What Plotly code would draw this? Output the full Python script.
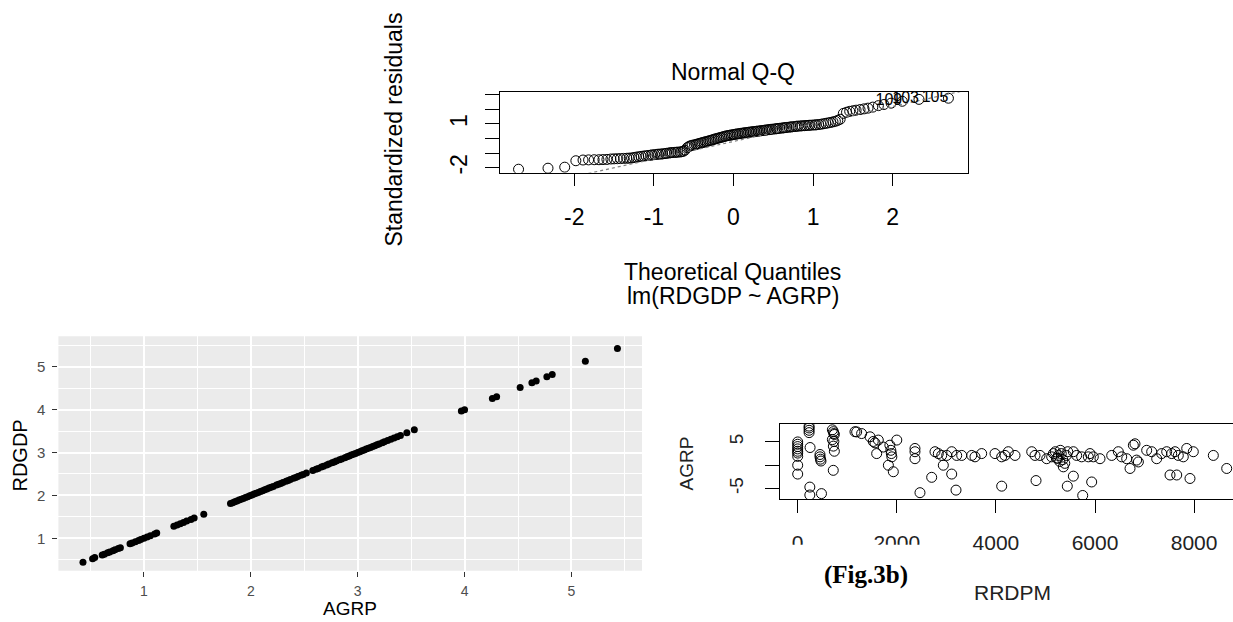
import plotly.graph_objects as go

W, H = 1233, 622

# ---------------- Top panel: Normal Q-Q (lm(RDGDP ~ AGRP)) ----------------
qq_theoretical = [
    -2.70, -2.33, -2.12, -1.98, -1.89, -1.82, -1.75, -1.69, -1.64, -1.59, -1.54, -1.50,
    -1.46, -1.42, -1.38, -1.34, -1.31, -1.28, -1.25, -1.22, -1.19, -1.16, -1.13, -1.10,
    -1.07, -1.04, -1.02, -0.99, -0.96, -0.94, -0.91, -0.89, -0.86, -0.84, -0.81, -0.79,
    -0.77, -0.74, -0.72, -0.70, -0.67, -0.65, -0.63, -0.61, -0.58, -0.56, -0.54, -0.52,
    -0.49, -0.47, -0.45, -0.43, -0.41, -0.39, -0.37, -0.35, -0.33, -0.31, -0.29, -0.27,
    -0.25, -0.23, -0.21, -0.19, -0.17, -0.15, -0.13, -0.11, -0.09, -0.07, -0.05, -0.03,
    -0.01, 0.01, 0.03, 0.05, 0.07, 0.09, 0.11, 0.13, 0.15, 0.17, 0.19, 0.21, 0.23, 0.25,
    0.27, 0.29, 0.31, 0.33, 0.35, 0.37, 0.39, 0.41, 0.43, 0.45, 0.47, 0.49, 0.52, 0.54,
    0.56, 0.58, 0.61, 0.63, 0.65, 0.67, 0.70, 0.72, 0.74, 0.77, 0.79, 0.81, 0.84, 0.86,
    0.89, 0.91, 0.94, 0.96, 0.99, 1.02, 1.04, 1.07, 1.10, 1.13, 1.16, 1.19, 1.22, 1.25,
    1.28, 1.31, 1.34, 1.38, 1.42, 1.46, 1.50, 1.54, 1.59, 1.64, 1.69, 1.75, 1.82, 1.89,
    1.98, 2.12, 2.33, 2.70,
]
qq_std_resid = [
    -2.10, -2.03, -1.96, -1.52, -1.47, -1.46, -1.45, -1.45, -1.44, -1.43, -1.40, -1.39,
    -1.38, -1.37, -1.36, -1.35, -1.34, -1.33, -1.30, -1.27, -1.25, -1.22, -1.20, -1.18,
    -1.16, -1.14, -1.12, -1.10, -1.08, -1.07, -1.06, -1.05, -1.03, -1.01, -0.99, -0.97,
    -0.96, -0.95, -0.94, -0.93, -0.92, -0.90, -0.87, -0.80, -0.62, -0.55, -0.50, -0.46,
    -0.43, -0.40, -0.37, -0.34, -0.31, -0.28, -0.25, -0.22, -0.19, -0.16, -0.13, -0.10,
    -0.06, -0.03, 0.00, 0.03, 0.06, 0.09, 0.12, 0.15, 0.18, 0.20, 0.22, 0.24,
    0.26, 0.28, 0.30, 0.32, 0.33, 0.35, 0.37, 0.38, 0.40, 0.41, 0.43, 0.44, 0.46, 0.47,
    0.48, 0.50, 0.51, 0.52, 0.54, 0.55, 0.57, 0.58, 0.60, 0.61, 0.63, 0.64, 0.66, 0.67,
    0.69, 0.70, 0.72, 0.73, 0.75, 0.76, 0.78, 0.79, 0.81, 0.82, 0.84, 0.85, 0.86, 0.87,
    0.88, 0.89, 0.90, 0.91, 0.92, 0.93, 0.94, 0.96, 0.98, 1.01, 1.04, 1.07, 1.10, 1.14,
    1.18, 1.24, 1.32, 1.72, 1.80, 1.86, 1.90, 1.94, 1.98, 2.03, 2.08, 2.15, 2.25, 2.33,
    2.42, 2.55, 2.68, 2.76,
]
qq_label_ids = ["109", "103", "105"]          # the three most extreme residuals (last 3 points)
qq_line_intercept = -0.20
qq_line_slope = 1.20
qq_line_x = [-3.0, 3.0]
qq_xticks = [-2, -1, 0, 1, 2]
qq_xticktext = ["-2", "-1", "0", "1", "2"]
qq_yticks = [-2, -1, 0, 1, 2, 3]
qq_yticktext = ["-2", "", "", "1", "", ""]

# ---------------- Bottom-left: ggplot RDGDP vs AGRP ----------------
agrp = [
    0.43, 0.52, 0.54, 0.61, 0.63, 0.66, 0.68, 0.71, 0.73, 0.76, 0.78, 0.87, 0.89, 0.92,
    0.95, 0.97, 1.00, 1.03, 1.06, 1.10, 1.12, 1.28, 1.31, 1.34, 1.37, 1.40, 1.44, 1.47,
    1.56, 1.81, 1.83, 1.85, 1.87, 1.89, 1.91, 1.93, 1.95, 1.97, 1.99, 2.01, 2.03, 2.05,
    2.07, 2.09, 2.11, 2.13, 2.15, 2.17, 2.19, 2.21, 2.24, 2.26, 2.28, 2.30, 2.33, 2.35,
    2.37, 2.40, 2.42, 2.44, 2.47, 2.49, 2.52, 2.58, 2.61, 2.63, 2.66, 2.68, 2.71, 2.73,
    2.76, 2.78, 2.80, 2.83, 2.85, 2.88, 2.90, 2.92, 2.94, 2.96, 2.98, 3.00, 3.02, 3.04,
    3.06, 3.08, 3.10, 3.12, 3.14, 3.16, 3.18, 3.20, 3.23, 3.25, 3.28, 3.31, 3.34, 3.37,
    3.40, 3.46, 3.53, 3.97, 4.00, 4.26, 4.30, 4.52, 4.63, 4.67, 4.77, 4.82, 5.13, 5.43,
]
rdgdp = [
    0.44, 0.52, 0.55, 0.61, 0.63, 0.66, 0.68, 0.71, 0.73, 0.76, 0.78, 0.87, 0.89, 0.92,
    0.95, 0.97, 1.00, 1.03, 1.06, 1.10, 1.12, 1.28, 1.31, 1.34, 1.37, 1.40, 1.44, 1.47,
    1.56, 1.81, 1.83, 1.85, 1.87, 1.89, 1.91, 1.93, 1.95, 1.97, 1.99, 2.01, 2.03, 2.05,
    2.07, 2.09, 2.11, 2.13, 2.15, 2.17, 2.19, 2.21, 2.24, 2.26, 2.28, 2.30, 2.33, 2.35,
    2.37, 2.40, 2.42, 2.44, 2.47, 2.49, 2.52, 2.58, 2.61, 2.63, 2.66, 2.68, 2.71, 2.73,
    2.76, 2.78, 2.80, 2.83, 2.85, 2.88, 2.90, 2.92, 2.94, 2.96, 2.98, 3.00, 3.02, 3.04,
    3.06, 3.08, 3.10, 3.12, 3.14, 3.16, 3.18, 3.20, 3.23, 3.25, 3.28, 3.31, 3.34, 3.37,
    3.40, 3.46, 3.53, 3.97, 4.00, 4.26, 4.30, 4.52, 4.63, 4.67, 4.77, 4.82, 5.13, 5.43,
]
gg_ticks = [1, 2, 3, 4, 5]

# ---------------- Bottom-right: AGRP vs RRDPM (base R) ----------------
rrdpm = [
    0, 0, 0, 0, 0, 0, 0, 0, 0,
    230, 230, 230, 230, 250, 245, 245, 480,
    450, 450, 460, 470, 718,
    700, 720, 730, 740, 700, 730, 720, 740,
    1156, 1190, 1290, 1460, 1525, 1560, 1627, 1594, 1728,
    1860, 1880, 1890, 1900, 2000, 1830, 1930,
    2367, 2367, 2367, 2468, 2704,
    2771, 2838, 2906, 3007, 3108, 3209, 3310, 2939, 3108, 3195,
    3512, 3578, 3713,
    3982, 4117, 4184, 4251, 4386, 4117,
    4723, 4789, 4890, 5025, 5126, 4810,
    5160, 5200, 5230, 5260, 5290, 5320, 5350, 5390, 5420, 5450, 5250, 5300,
    5563, 5630, 5731, 5865, 5899, 5966, 6101,
    5361, 5563, 5441, 5933, 5752,
    6337, 6471, 6539, 6640, 6707, 6774, 6807, 6840, 6875,
    7043, 7144, 7245, 7346, 7447, 7548, 7615, 7681, 7782, 7851, 7984,
    7514, 7649, 7917, 8388, 8658,
]
agrp_b = [
    5.0, 4.5, 4.0, 3.5, 3.0, 2.6, 1.9, 0.0, -1.9,
    8.4, 8.0, 7.5, 7.0, 3.8, -4.7, -6.4, -6.1,
    2.3, 1.8, 1.3, 0.9, -1.1,
    7.6, 7.2, 6.8, 6.6, 5.5, 5.1, 4.1, 3.0,
    7.2, 7.15, 6.8, 6.1, 5.1, 4.8, 5.4, 2.5, 3.9,
    4.3, 3.2, 2.5, 1.8, 5.4, 0.0, -1.4,
    3.6, 2.9, 1.4, -5.9, -2.6,
    2.9, 2.5, 2.1, 2.1, 2.9, 2.1, 2.1, 0.0, -1.9, -5.35,
    2.1, 1.8, 2.5,
    2.5, 1.8, 2.1, 2.9, 2.1, -4.5,
    2.9, 2.1, 2.1, 1.4, 1.8, -3.3,
    2.5, 2.9, 1.5, 2.1, 0.8, 2.5, 1.2, 0.4, 2.1, 2.9, 1.5, 3.2,
    2.9, 2.1, 1.8, 1.8, 2.5, 1.8, 1.4,
    -0.35, -2.35, -4.5, -3.6, -6.5,
    2.1, 2.9, 1.8, 1.4, -0.7, 4.3, 4.6, 1.1, 0.7,
    3.2, 2.9, 1.4, 2.5, 2.9, 2.5, 2.9, 2.1, 1.8, 3.6, 2.9,
    -2.1, -2.1, -2.85, 2.1, -0.7,
]
br_xticks = [0, 2000, 4000, 6000, 8000]
br_yticks = [-5, 0, 5]
br_yticktext = ["-5", "", "5"]

# ---------------- helpers (pixel -> paper) ----------------
def px(x):
    return x / W


def py(y):
    return 1 - y / H


RFONT = "Liberation Sans, Arial, sans-serif"

fig = go.Figure()

# Q-Q points
fig.add_trace(go.Scatter(
    x=qq_theoretical, y=qq_std_resid, mode="markers", xaxis="x", yaxis="y",
    marker=dict(symbol="circle-open", size=10, color="black", line=dict(width=1)),
    hoverinfo="x+y"))
# Q-Q reference line (dotted, gray50)
fig.add_trace(go.Scatter(
    x=qq_line_x, y=[qq_line_intercept + qq_line_slope * v for v in qq_line_x],
    mode="lines", xaxis="x", yaxis="y",
    line=dict(color="#7F7F7F", width=1.2, dash="dot"), hoverinfo="skip"))
# labels of the extreme points
fig.add_trace(go.Scatter(
    x=qq_theoretical[-3:], y=qq_std_resid[-3:], mode="text", xaxis="x", yaxis="y",
    text=qq_label_ids, textposition="middle left",
    textfont=dict(family=RFONT, size=16, color="black"), hoverinfo="skip"))

# ggplot scatter
fig.add_trace(go.Scatter(
    x=agrp, y=rdgdp, mode="markers", xaxis="x2", yaxis="y2",
    marker=dict(symbol="circle", size=7, color="black", line=dict(width=0))))

# base R scatter
fig.add_trace(go.Scatter(
    x=rrdpm, y=agrp_b, mode="markers", xaxis="x3", yaxis="y3",
    marker=dict(symbol="circle-open", size=10, color="black", line=dict(width=1))))

r_axis = dict(showgrid=False, zeroline=False, showline=True, linecolor="black",
              linewidth=1, ticks="outside", tickcolor="black", tickwidth=1)

fig.update_layout(
    width=W, height=H, margin=dict(l=0, r=0, t=0, b=0),
    paper_bgcolor="white", plot_bgcolor="rgba(0,0,0,0)", showlegend=False,
    # top
    xaxis=dict(domain=[px(500), px(968)], range=[-2.933, 2.946], anchor="y",
               tickvals=qq_xticks, ticktext=qq_xticktext, ticklen=12, mirror=True,
               ticklabelstandoff=12,
               tickfont=dict(family=RFONT, size=23, color="black"), **r_axis),
    yaxis=dict(domain=[py(173.3), py(92)], range=[-2.341, 3.205], anchor="x",
               tickvals=qq_yticks, ticktext=qq_yticktext, ticklen=14, mirror=True,
               tickangle=-90, ticklabelstandoff=9,
               tickfont=dict(family=RFONT, size=23, color="black"), **r_axis),
    # bottom-left (ggplot)
    xaxis2=dict(domain=[px(58.4), px(642)], range=[0.2, 5.66], anchor="y2",
                tickvals=gg_ticks, showgrid=True, gridcolor="white", gridwidth=2,
                zeroline=False, showline=False, ticks="outside", ticklen=5,
                tickcolor="#333333", tickwidth=1, ticklabelstandoff=2,
                minor=dict(dtick=0.5, tick0=0.5, showgrid=True, gridcolor="white",
                           gridwidth=1, ticks=""),
                tickfont=dict(family=RFONT, size=14, color="#4D4D4D")),
    yaxis2=dict(domain=[py(572.7), py(337.3)], range=[0.2395, 5.714], anchor="x2",
                tickvals=gg_ticks, showgrid=True, gridcolor="white", gridwidth=2,
                zeroline=False, showline=False, ticks="outside", ticklen=5,
                tickcolor="#333333", tickwidth=1, ticklabelstandoff=4,
                minor=dict(dtick=0.5, tick0=0.5, showgrid=True, gridcolor="white",
                           gridwidth=1, ticks=""),
                tickfont=dict(family=RFONT, size=15, color="#4D4D4D")),
    # bottom-right
    xaxis3=dict(domain=[px(780), 1.0], range=[-357, 8785], anchor="y3",
                tickvals=br_xticks, ticklen=13, mirror=True, ticklabelstandoff=11,
                tickfont=dict(family=RFONT, size=21, color="#222222"), **r_axis),
    yaxis3=dict(domain=[py(501), py(425)], range=[-7.34, 8.93], anchor="x3",
                tickvals=br_yticks, ticktext=br_yticktext, ticklen=14, mirror=False,
                tickangle=-90, ticklabelstandoff=14,
                tickfont=dict(family=RFONT, size=19, color="#222222"), **r_axis),
)

# ggplot grey panel background
fig.add_shape(type="rect", xref="paper", yref="paper",
              x0=px(58.4), x1=px(642), y0=py(572.7), y1=py(337.3),
              fillcolor="#EBEBEB", line=dict(width=0), layer="below")
# white patch (the figure caption box hides the bottom of the first tick labels)
fig.add_shape(type="rect", xref="paper", yref="paper",
              x0=px(770), x1=px(935), y0=py(562), y1=py(546.5),
              fillcolor="white", line=dict(width=0), layer="above")

def note(text, x, y, size, angle=0, color="black", family=RFONT, yanchor="middle"):
    fig.add_annotation(text=text, xref="paper", yref="paper", x=px(x), y=py(y),
                       xanchor="center", yanchor=yanchor, showarrow=False,
                       textangle=angle, borderpad=0,
                       font=dict(family=family, size=size, color=color))

note("Normal Q-Q", 733, 72, 23)
note("Theoretical Quantiles", 732.5, 273, 23)
note("lm(RDGDP ~ AGRP)", 732.5, 297, 23)
note("Standardized residuals", 394, 130, 23, angle=-90)

note("AGRP", 350, 622, 19, yanchor="bottom")
note("RDGDP", 20, 457, 20, angle=-90)

note("AGRP", 687, 465, 19, angle=-90, color="#222222")
note("RRDPM", 1012, 594, 21, color="#222222")
note("<b>(Fig.3b)</b>", 866, 577, 25, family="Liberation Serif, Times New Roman, serif")

# remove the browser's default 8px page margin so the figure sits at (0, 0)
fig.write_html("out.html",
               config={"displayModeBar": False},
               post_script="document.body.style.margin='0px';"
                           "document.body.style.overflow='hidden';")
